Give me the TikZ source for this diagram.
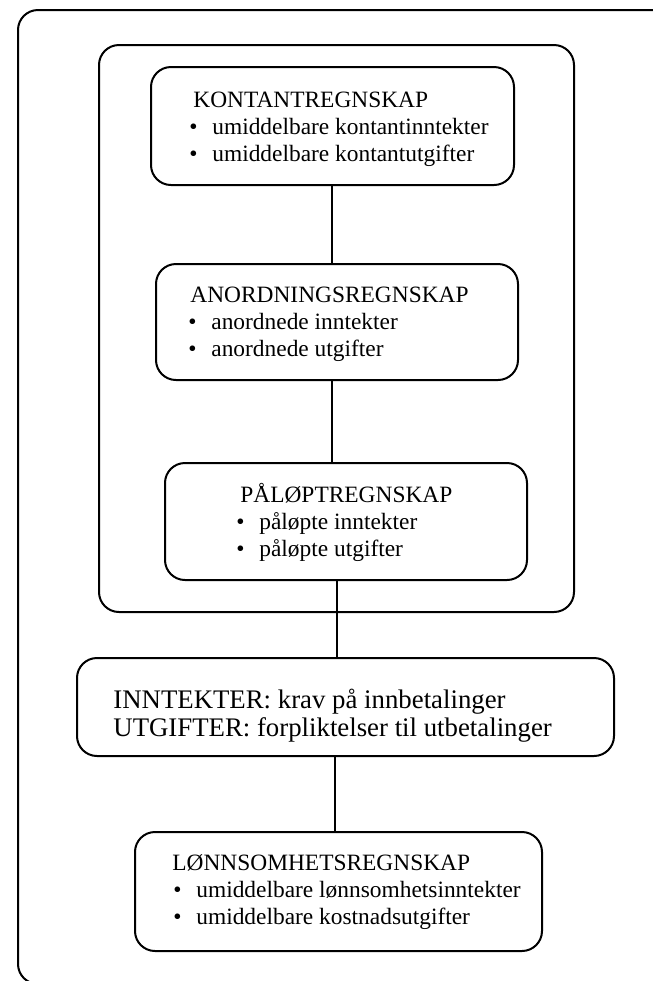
\documentclass[tikz,border=0pt]{standalone}
\usepackage{fontspec}
\setmainfont{Liberation Serif}
\newcommand{\bul}{\makebox[11.5pt][l]{\textbullet}}
\begin{document}
\begin{tikzpicture}[x=0.5pt,y=-0.5pt,
  frame/.style={draw, line width=1pt, rounded corners=10pt},
  box/.style={draw, line width=1pt, rounded corners=10pt, inner sep=0pt},
  txt/.style={anchor=base west, inner sep=0pt, font=\fontsize{11.7}{14}\selectfont},
  bigtxt/.style={anchor=base west, inner sep=0pt, font=\fontsize{13.4}{15}\selectfont},
  link/.style={line width=1pt}]
\useasboundingbox (0,0) rectangle (653,981);
\clip (0,0) rectangle (653,981);

% outer frame (runs past the right and bottom edges) and inner frame
\draw[frame] (18,10) rectangle (700,984);
\draw[frame] (99,45) rectangle (574,612);

% boxes
\node[box, minimum width=181.5pt, minimum height=59pt] (kontant) at (332.5,126) {};
\node[box, minimum width=181pt, minimum height=58pt] (anordning) at (337,322) {};
\node[box, minimum width=181pt, minimum height=58.5pt] (palop) at (346,521.5) {};
\node[box, minimum width=268.5pt, minimum height=49pt] (inntekt) at (345.5,707) {};
\node[box, minimum width=203.5pt, minimum height=59.5pt] (lonn) at (338.5,891.5) {};

% texts
\node[txt] (k1) at (193,107) {KONTANTREGNSKAP};
\node[txt] (k2) at (189,134) {\bul umiddelbare kontantinntekter};
\node[txt] (k3) at (189,161) {\bul umiddelbare kontantutgifter};

\node[txt] (a1) at (190,302) {ANORDNINGSREGNSKAP};
\node[txt] (a2) at (188,329) {\bul anordnede inntekter};
\node[txt] (a3) at (188,356) {\bul anordnede utgifter};

\node[txt] (p1) at (240,502) {PÅLØPTREGNSKAP};
\node[txt] (p2) at (236,529) {\bul påløpte inntekter};
\node[txt] (p3) at (236,556) {\bul påløpte utgifter};

\node[bigtxt] (i1) at (113,708) {INNTEKTER: krav på innbetalinger};
\node[bigtxt] (i2) at (113,736) {UTGIFTER: forpliktelser til utbetalinger};

\node[txt] (l1) at (172,870) {LØNNSOMHETSREGNSKAP};
\node[txt] (l2) at (173,897) {\bul umiddelbare lønnsomhetsinntekter};
\node[txt] (l3) at (173,924) {\bul umiddelbare kostnadsutgifter};

% connectors
\coordinate (xa) at (332,0);
\coordinate (xb) at (337,0);
\coordinate (xc) at (335,0);
\draw[link] (kontant.south -| xa) -- (anordning.north -| xa);
\draw[link] (anordning.south -| xa) -- (palop.north -| xa);
\draw[link] (palop.south -| xb) -- (inntekt.north -| xb);
\draw[link] (inntekt.south -| xc) -- (lonn.north -| xc);
\end{tikzpicture}
\end{document}
